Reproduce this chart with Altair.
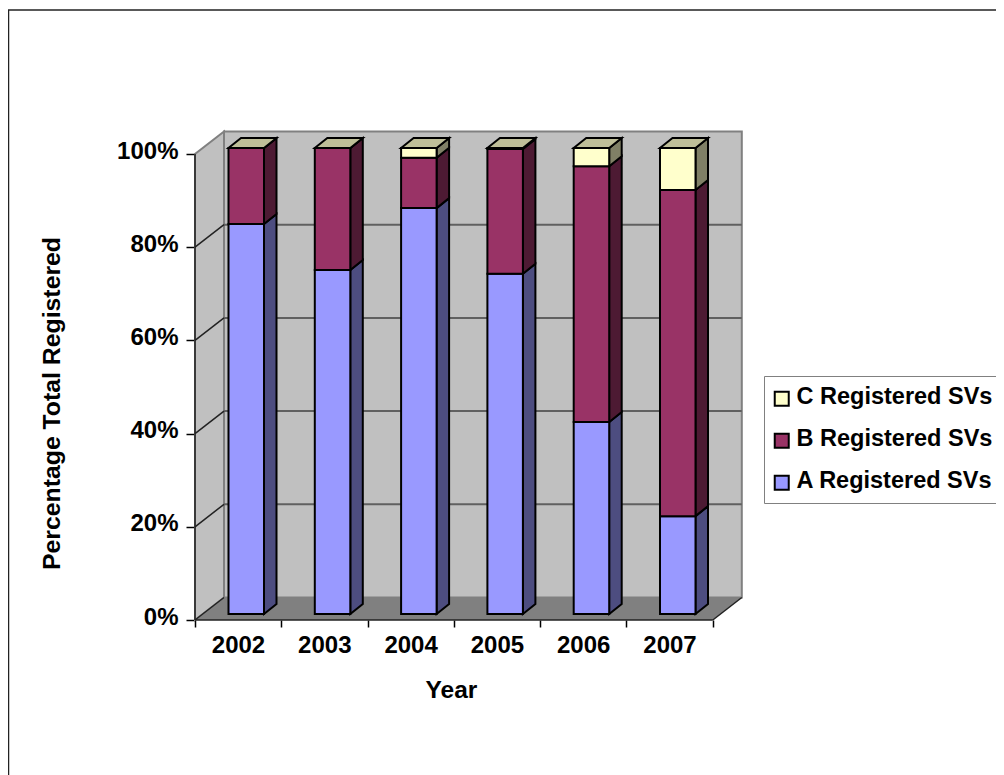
import altair as alt
import pandas as pd

YEARS = [2002, 2003, 2004, 2005, 2006, 2007]
A_VALUES = [83.7, 73.8, 87.1, 73.0, 41.2, 21.0]
B_VALUES = [16.3, 26.2, 10.8, 26.8, 54.9, 70.0]
C_VALUES = [0.0, 0.0, 2.1, 0.2, 3.9, 9.0]
SERIES = ["A Registered SVs", "B Registered SVs", "C Registered SVs"]
FRONT = ["#9999FF", "#993366", "#FFFFCC"]
SIDE = ["#4D4D80", "#4D1A33", "#808066"]
TOP_COLOR = "#BFBF99"
WALL = "#C0C0C0"
FLOOR = "#808080"
Y_TICKS = [0, 20, 40, 60, 80, 100]
FONT = "Liberation Sans"

# Pixel sizes of the pseudo-3D projection, converted to scale units
W, H = 548, 489
SVG_W, SVG_H = 988, 767
PX_SLOT, PX_PCT = 86.3, 4.66
X_MAX, Y_MAX = W / PX_SLOT, H / PX_PCT
N = len(YEARS)
WALL_DX, WALL_DY = 29 / PX_SLOT, 22.5 / PX_PCT
BAR_X0, BAR_W = 33.5 / PX_SLOT, 35.5 / PX_SLOT
BAR_DY = 6 / PX_PCT
SIDE_DX, SIDE_DY = 12.5 / PX_SLOT, 10 / PX_PCT

xs = alt.Scale(domain=[0, X_MAX], nice=False, zero=False)
ys = alt.Scale(domain=[0, Y_MAX], nice=False, zero=False)

X_AXIS = alt.Axis(
    values=list(range(N + 1)), title="Year", grid=False, domain=False,
    tickColor="black", tickSize=7, tickWidth=1.5, labelPadding=6,
    labelFont=FONT, labelFontSize=24, labelFontWeight="bold", labelColor="black",
    labelOffset=43, labelOverlap=False, labelFlush=False, labelBound=False,
    labelExpr=f"{YEARS}[datum.value] || ''",
    titleFont=FONT, titleFontSize=24.5, titleFontWeight="bold", titleColor="black",
    titleX=256, titleY=58, titleAnchor="middle",
)
Y_AXIS = alt.Axis(
    values=Y_TICKS, title="Percentage Total Registered", grid=False, domain=False,
    tickColor="black", tickSize=9, tickWidth=1.5, labelPadding=8,
    labelFont=FONT, labelFontSize=24, labelFontWeight="bold", labelColor="black",
    labelOffset=-3, labelOverlap=False, labelBound=False,
    labelExpr="datum.value + '%'",
    titleFont=FONT, titleFontSize=24.8, titleFontWeight="bold", titleColor="black",
    titleX=-131, titleY=272, titleAnchor="middle",
)
X = alt.X("x:Q", scale=xs, axis=X_AXIS)
Y = alt.Y("y:Q", scale=ys, axis=Y_AXIS, stack=None)

front, sides, tops = [], [], []
for i, year in enumerate(YEARS):
    x0 = i + BAR_X0
    x1 = x0 + BAR_W
    base = BAR_DY
    for s, vals in enumerate([A_VALUES, B_VALUES, C_VALUES]):
        v = vals[i]
        front.append(dict(x=x0, x2=x1, y=base, y2=base + v, series=SERIES[s]))
        pid = f"{year}-{s}"
        sides.append(dict(poly=pid, x=x1, y=base, y2=base + v, fill=SIDE[s]))
        sides.append(dict(poly=pid, x=x1 + SIDE_DX, y=base + SIDE_DY, y2=base + v + SIDE_DY, fill=SIDE[s]))
        base += v
    tops.append(dict(poly=str(year), y=base, x=x0, x2=x1, fill=TOP_COLOR))
    tops.append(dict(poly=str(year), y=base + SIDE_DY, x=x0 + SIDE_DX, x2=x1 + SIDE_DX, fill=TOP_COLOR))

# Walls and floor
left_wall = pd.DataFrame([
    dict(x=0, y=0, y2=100),
    dict(x=WALL_DX, y=WALL_DY, y2=100 + WALL_DY),
])
floor = pd.DataFrame([
    dict(y=0, x=0, x2=N),
    dict(y=WALL_DY, x=WALL_DX, x2=N + WALL_DX),
])
back = pd.DataFrame([dict(x=WALL_DX, x2=N + WALL_DX, y=WALL_DY, y2=100 + WALL_DY)])

back_layer = alt.Chart(back).mark_rect(fill=WALL, stroke=FLOOR, strokeWidth=2).encode(x=X, x2="x2:Q", y=Y, y2="y2:Q")
left_layer = alt.Chart(left_wall).mark_area(fill=WALL, stroke=FLOOR, strokeWidth=2).encode(x=X, y=Y, y2="y2:Q")
floor_layer = alt.Chart(floor).mark_area(orient="horizontal", fill=FLOOR).encode(x=X, x2="x2:Q", y=Y)

grid_rows = []
for v in Y_TICKS[1:-1]:
    grid_rows.append(dict(g=v, x=WALL_DX, x2=N + WALL_DX, y=v + WALL_DY))
back_grid = alt.Chart(pd.DataFrame(grid_rows)).mark_rule(color="#606060", strokeWidth=2).encode(x=X, x2="x2:Q", y=Y)

edge_rows = []
for v in Y_TICKS[:-1]:
    edge_rows += [dict(g=f"d{v}", x=0, y=v), dict(g=f"d{v}", x=WALL_DX, y=v + WALL_DY)]
edge_rows += [dict(g="right", x=N, y=0), dict(g="right", x=N + WALL_DX, y=WALL_DY)]
edge_rows += [dict(g="front", x=0, y=0), dict(g="front", x=0, y=100)]
edge_rows += [dict(g="bottom", x=0, y=0), dict(g="bottom", x=N, y=0)]
edges = alt.Chart(pd.DataFrame(edge_rows)).mark_line(color="#222222", strokeWidth=1.5).encode(
    x=X, y=Y, detail="g:N", order=alt.Order("y:Q"))

side_layer = alt.Chart(pd.DataFrame(sides)).mark_area(stroke="black", strokeWidth=2).encode(
    x=X, y=Y, y2="y2:Q", detail="poly:N", fill=alt.Fill("fill:N", scale=None))
top_layer = alt.Chart(pd.DataFrame(tops)).mark_area(orient="horizontal", stroke="black", strokeWidth=2).encode(
    x=X, x2="x2:Q", y=Y, detail="poly:N", fill=alt.Fill("fill:N", scale=None))
front_layer = alt.Chart(pd.DataFrame(front)).mark_rect(stroke="black", strokeWidth=2).encode(
    x=X, x2="x2:Q", y=Y, y2="y2:Q",
    fill=alt.Fill("series:N", scale=alt.Scale(domain=SERIES, range=FRONT), legend=alt.Legend(
        orient="none", legendX=569, legendY=245, title=None,
        values=SERIES[::-1], symbolType="M-1.43,-0.72L0.57,-0.72L0.57,1.28L-1.43,1.28Z", symbolSize=196,
        symbolStrokeColor="black", symbolStrokeWidth=2, symbolOpacity=1,
        labelFont=FONT, labelFontSize=23.5, labelFontWeight="bold", labelColor="black",
        labelLimit=400, labelOffset=0, rowPadding=16, padding=9,
        strokeColor="#808080", fillColor="white", labelBaseline="middle",
    )),
)

# Outer chart-area frame, which runs off the picture at right and bottom
frame_src = pd.DataFrame([dict(k=1)])
frame_left = alt.Chart(frame_src).mark_rule(color="#222222", strokeWidth=1.5).encode(
    x=alt.value(-186.5), y=alt.value(-121), y2=alt.value(SVG_H))
frame_top = alt.Chart(frame_src).mark_rule(color="#222222", strokeWidth=1.5).encode(
    y=alt.value(-121), x=alt.value(-187), x2=alt.value(SVG_W))

chart = alt.layer(
    back_layer, left_layer, floor_layer, back_grid, edges,
    side_layer, top_layer, front_layer, frame_left, frame_top,
).properties(
    width=W, height=H,
    autosize=alt.AutoSizeParams(type="none"),
    padding={"left": 187, "top": 123, "right": SVG_W - 187 - W, "bottom": SVG_H - 123 - H},
).configure_view(stroke=None)

chart.save("out.html", embed_options={"renderer": "svg", "actions": False})
